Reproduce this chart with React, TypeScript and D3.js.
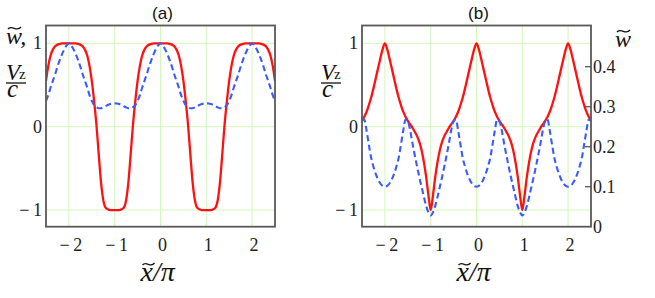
import React, { useEffect, useRef } from "react";
import * as d3 from "d3";

// sample positions x~/pi, shared by all four curves
const xGrid = d3.range(0, 101).map(i => +(-2.5 + i * 0.05).toFixed(2));

// panel (a): Vz/c (red) and w~ (blue dashed), both on left axis
const redA = [
  0.55, 0.73, 0.855, 0.925, 0.965, 0.985, 0.995, 1, 1, 1, 1,
  1, 1, 1, 0.995, 0.985, 0.965, 0.925, 0.855, 0.73, 0.55, 0.31, 0.03, -0.32, -0.66, -0.88, -0.97, -0.99, -1, -1, -1,
  -1, -1, -0.99, -0.97, -0.88, -0.66, -0.32, 0.03, 0.31, 0.55, 0.73, 0.855, 0.925, 0.965, 0.985, 0.995, 1, 1, 1, 1,
  1, 1, 1, 0.995, 0.985, 0.965, 0.925, 0.855, 0.73, 0.55, 0.31, 0.03, -0.32, -0.66, -0.88, -0.97, -0.99, -1, -1, -1,
  -1, -1, -0.99, -0.97, -0.88, -0.66, -0.32, 0.03, 0.31, 0.55, 0.73, 0.855, 0.925, 0.965, 0.985, 0.995, 1, 1, 1, 1,
  1, 1, 1, 0.995, 0.985, 0.965, 0.925, 0.855, 0.73, 0.55,
];
const blueA = [
  0.31, 0.38, 0.47, 0.55, 0.63, 0.72, 0.8, 0.87, 0.93, 0.975, 1,
  0.975, 0.93, 0.87, 0.8, 0.72, 0.63, 0.55, 0.47, 0.38, 0.31, 0.26, 0.235, 0.222, 0.222, 0.232, 0.245, 0.26, 0.272, 0.278, 0.28,
  0.278, 0.272, 0.26, 0.245, 0.232, 0.222, 0.222, 0.235, 0.26, 0.31, 0.38, 0.47, 0.55, 0.63, 0.72, 0.8, 0.87, 0.93, 0.975, 1,
  0.975, 0.93, 0.87, 0.8, 0.72, 0.63, 0.55, 0.47, 0.38, 0.31, 0.26, 0.235, 0.222, 0.222, 0.232, 0.245, 0.26, 0.272, 0.278, 0.28,
  0.278, 0.272, 0.26, 0.245, 0.232, 0.222, 0.222, 0.235, 0.26, 0.31, 0.38, 0.47, 0.55, 0.63, 0.72, 0.8, 0.87, 0.93, 0.975, 1,
  0.975, 0.93, 0.87, 0.8, 0.72, 0.63, 0.55, 0.47, 0.38, 0.31,
];

// panel (b): Vz/c (red, left axis) and w~ (blue dashed, right axis)
const redB = [
  0.07, 0.12, 0.18, 0.26, 0.35, 0.46, 0.58, 0.7, 0.82, 0.93, 1,
  0.93, 0.82, 0.7, 0.58, 0.46, 0.35, 0.26, 0.18, 0.12, 0.07, 0.03, -0.01, -0.06, -0.11, -0.18, -0.28, -0.42, -0.6, -0.82, -1,
  -0.82, -0.6, -0.42, -0.28, -0.18, -0.11, -0.06, -0.01, 0.03, 0.07, 0.12, 0.18, 0.26, 0.35, 0.46, 0.58, 0.7, 0.82, 0.93, 1,
  0.93, 0.82, 0.7, 0.58, 0.46, 0.35, 0.26, 0.18, 0.12, 0.07, 0.03, -0.01, -0.06, -0.11, -0.18, -0.28, -0.42, -0.6, -0.82, -1,
  -0.82, -0.6, -0.42, -0.28, -0.18, -0.11, -0.06, -0.01, 0.03, 0.07, 0.12, 0.18, 0.26, 0.35, 0.46, 0.58, 0.7, 0.82, 0.93, 1,
  0.93, 0.82, 0.7, 0.58, 0.46, 0.35, 0.26, 0.18, 0.12, 0.07,
];
const blueB = [
  0.264, 0.268, 0.24, 0.205, 0.172, 0.15, 0.132, 0.118, 0.108, 0.102, 0.1,
  0.102, 0.108, 0.118, 0.132, 0.15, 0.172, 0.205, 0.24, 0.268, 0.264, 0.242, 0.21, 0.18, 0.152, 0.125, 0.1, 0.075, 0.052, 0.036, 0.028,
  0.036, 0.052, 0.075, 0.1, 0.125, 0.152, 0.18, 0.21, 0.242, 0.264, 0.268, 0.24, 0.205, 0.172, 0.15, 0.132, 0.118, 0.108, 0.102, 0.1,
  0.102, 0.108, 0.118, 0.132, 0.15, 0.172, 0.205, 0.24, 0.268, 0.264, 0.242, 0.21, 0.18, 0.152, 0.125, 0.1, 0.075, 0.052, 0.036, 0.028,
  0.036, 0.052, 0.075, 0.1, 0.125, 0.152, 0.18, 0.21, 0.242, 0.264, 0.268, 0.24, 0.205, 0.172, 0.15, 0.132, 0.118, 0.108, 0.102, 0.1,
  0.102, 0.108, 0.118, 0.132, 0.15, 0.172, 0.205, 0.24, 0.268, 0.264,
];

const xTicks = [-2, -1, 0, 1, 2];
const yTicks = [-1, 0, 1];
const wTicks = [0, 0.1, 0.2, 0.3, 0.4];

const fmt = (v: number) => (v < 0 ? "\u2212\u2009" + Math.abs(v) : String(v));

const App: React.FC = () => {
  const svgRef = useRef<SVGSVGElement | null>(null);

  useEffect(() => {
    const width = 655;
    const height = 298;
    const svg = d3.select(svgRef.current);
    svg.selectAll("*").remove();
    svg.attr("width", width).attr("height", height);

    const top = 25.5;
    const bottom = 226.7;
    const serif = "Liberation Serif, DejaVu Serif, serif";
    const gridColor = "#d4f5bc";
    const frameColor = "#595959";
    const ink = "#111";

    const yL = d3.scaleLinear().domain([-1.2, 1.2]).range([bottom, bottom - 2.4 * 83.33]);
    const yR = d3.scaleLinear().domain([0, 0.5]).range([bottom, bottom - 200]);

    // small tilde accent drawn as a path
    const tilde = (x0: number, y0: number, w: number) => {
      const p = d3.path();
      p.moveTo(x0, y0 + 1);
      p.bezierCurveTo(x0 + w / 3, y0 - 3.5, x0 + (2 * w) / 3, y0 + 4.5, x0 + w, y0 - 1);
      svg.append("path")
        .attr("d", p.toString())
        .attr("fill", "none")
        .attr("stroke", ink)
        .attr("stroke-width", 1.3);
    };

    const panels = [
      { id: "a", left: 46, right: 275, red: redA, blue: blueA, blueY: yL, title: "(a)" },
      { id: "b", left: 362, right: 591, red: redB, blue: blueB, blueY: yR, title: "(b)" },
    ];

    panels.forEach(p => {
      const x = d3.scaleLinear().domain([-2.5, 2.5]).range([p.left, p.right]);
      const g = svg.append("g");

      g.append("clipPath")
        .attr("id", "clip-" + p.id)
        .append("rect")
        .attr("x", p.left)
        .attr("y", top)
        .attr("width", p.right - p.left)
        .attr("height", bottom - top);

      // Grid
      g.append("g")
        .selectAll("line")
        .data(xTicks)
        .join("line")
        .attr("x1", d => x(d))
        .attr("x2", d => x(d))
        .attr("y1", top)
        .attr("y2", bottom)
        .attr("stroke", gridColor)
        .attr("stroke-width", 1);
      g.append("g")
        .selectAll("line")
        .data(yTicks)
        .join("line")
        .attr("x1", p.left)
        .attr("x2", p.right)
        .attr("y1", d => yL(d))
        .attr("y2", d => yL(d))
        .attr("stroke", gridColor)
        .attr("stroke-width", 1);

      // Curves
      const lineRed = d3
        .line<number>()
        .x((_, i) => x(xGrid[i]))
        .y(d => yL(d))
        .curve(d3.curveMonotoneX);
      const lineBlue = d3
        .line<number>()
        .x((_, i) => x(xGrid[i]))
        .y(d => p.blueY(d))
        .curve(d3.curveMonotoneX);

      const curves = g.append("g").attr("clip-path", `url(#clip-${p.id})`);
      curves
        .append("path")
        .attr("d", lineRed(p.red))
        .attr("fill", "none")
        .attr("stroke", "#ff1111")
        .attr("stroke-width", 2.3);
      curves
        .append("path")
        .attr("d", lineBlue(p.blue))
        .attr("fill", "none")
        .attr("stroke", "#3a5cff")
        .attr("stroke-width", 2.1)
        .attr("stroke-dasharray", "6,3.5");

      // Frame
      g.append("rect")
        .attr("x", p.left)
        .attr("y", top)
        .attr("width", p.right - p.left)
        .attr("height", bottom - top)
        .attr("fill", "none")
        .attr("stroke", frameColor)
        .attr("stroke-width", 1.8);

      // X tick labels
      g.append("g")
        .selectAll("text")
        .data(xTicks)
        .join("text")
        .attr("x", d => x(d) + 2)
        .attr("y", 251)
        .attr("text-anchor", "middle")
        .attr("font-family", serif)
        .attr("font-size", 18)
        .attr("fill", "#222")
        .text(d => fmt(d));

      // Left tick labels
      g.append("g")
        .selectAll("text")
        .data(yTicks)
        .join("text")
        .attr("x", p.left - 4)
        .attr("y", d => yL(d) + 6)
        .attr("text-anchor", "end")
        .attr("font-family", serif)
        .attr("font-size", 18)
        .attr("fill", "#222")
        .text(d => fmt(d));

      // Title
      g.append("text")
        .attr("x", (p.left + p.right) / 2 + 2)
        .attr("y", 19)
        .attr("text-anchor", "middle")
        .attr("font-family", "Liberation Sans, Arial, sans-serif")
        .attr("font-size", 17)
        .attr("fill", ink)
        .text(p.title);

      // x axis label  x~/pi
      const cx = (p.left + p.right) / 2;
      g.append("text")
        .attr("x", cx - 20)
        .attr("y", 281)
        .attr("font-family", serif)
        .attr("font-style", "italic")
        .attr("font-size", 28)
        .attr("fill", ink)
        .text("x/π");
      tilde(cx - 18, 264, 12);

      // Vz/c label: numerator and denominator in one text element
      const vx = p.id === "a" ? 6 : 321;
      const frac = g.append("text")
        .attr("x", vx)
        .attr("y", 80)
        .attr("font-family", serif)
        .attr("font-size", 23)
        .attr("fill", ink);
      frac.append("tspan").attr("font-style", "italic").text("V");
      frac.append("tspan").attr("font-size", 15).attr("dx", -1).attr("dy", -1).text("z");
      frac.append("tspan")
        .attr("x", vx + 1)
        .attr("y", 97)
        .attr("font-style", "italic")
        .attr("font-size", 25)
        .text("c");
      g.append("line")
        .attr("x1", vx)
        .attr("x2", vx + 20)
        .attr("y1", 83)
        .attr("y2", 83)
        .attr("stroke", ink)
        .attr("stroke-width", 1.3);
    });

    // w~, label for panel (a)
    svg.append("text")
      .attr("x", 6)
      .attr("y", 44)
      .attr("font-family", serif)
      .attr("font-style", "italic")
      .attr("font-size", 24)
      .attr("fill", ink)
      .text("w,");
    tilde(8, 28, 13);

    // right axis of panel (b)
    const rightX = 591;
    svg.append("g")
      .selectAll("line")
      .data(wTicks.filter(d => d > 0))
      .join("line")
      .attr("x1", rightX - 6)
      .attr("x2", rightX)
      .attr("y1", d => yR(d))
      .attr("y2", d => yR(d))
      .attr("stroke", frameColor)
      .attr("stroke-width", 1.3);
    svg.append("g")
      .selectAll("text")
      .data(wTicks)
      .join("text")
      .attr("x", rightX + 2)
      .attr("y", d => yR(d) + 6)
      .attr("font-family", serif)
      .attr("font-size", 18)
      .attr("fill", "#222")
      .text(d => String(d));

    svg.append("text")
      .attr("x", 615)
      .attr("y", 47)
      .attr("font-family", serif)
      .attr("font-style", "italic")
      .attr("font-size", 24)
      .attr("fill", ink)
      .text("w");
    tilde(617, 31, 13);
  }, []);

  return (
    <svg
      ref={svgRef}
      style={{ position: "absolute", left: 0, top: 0, background: "#fff" }}
    ></svg>
  );
};

export default App;
